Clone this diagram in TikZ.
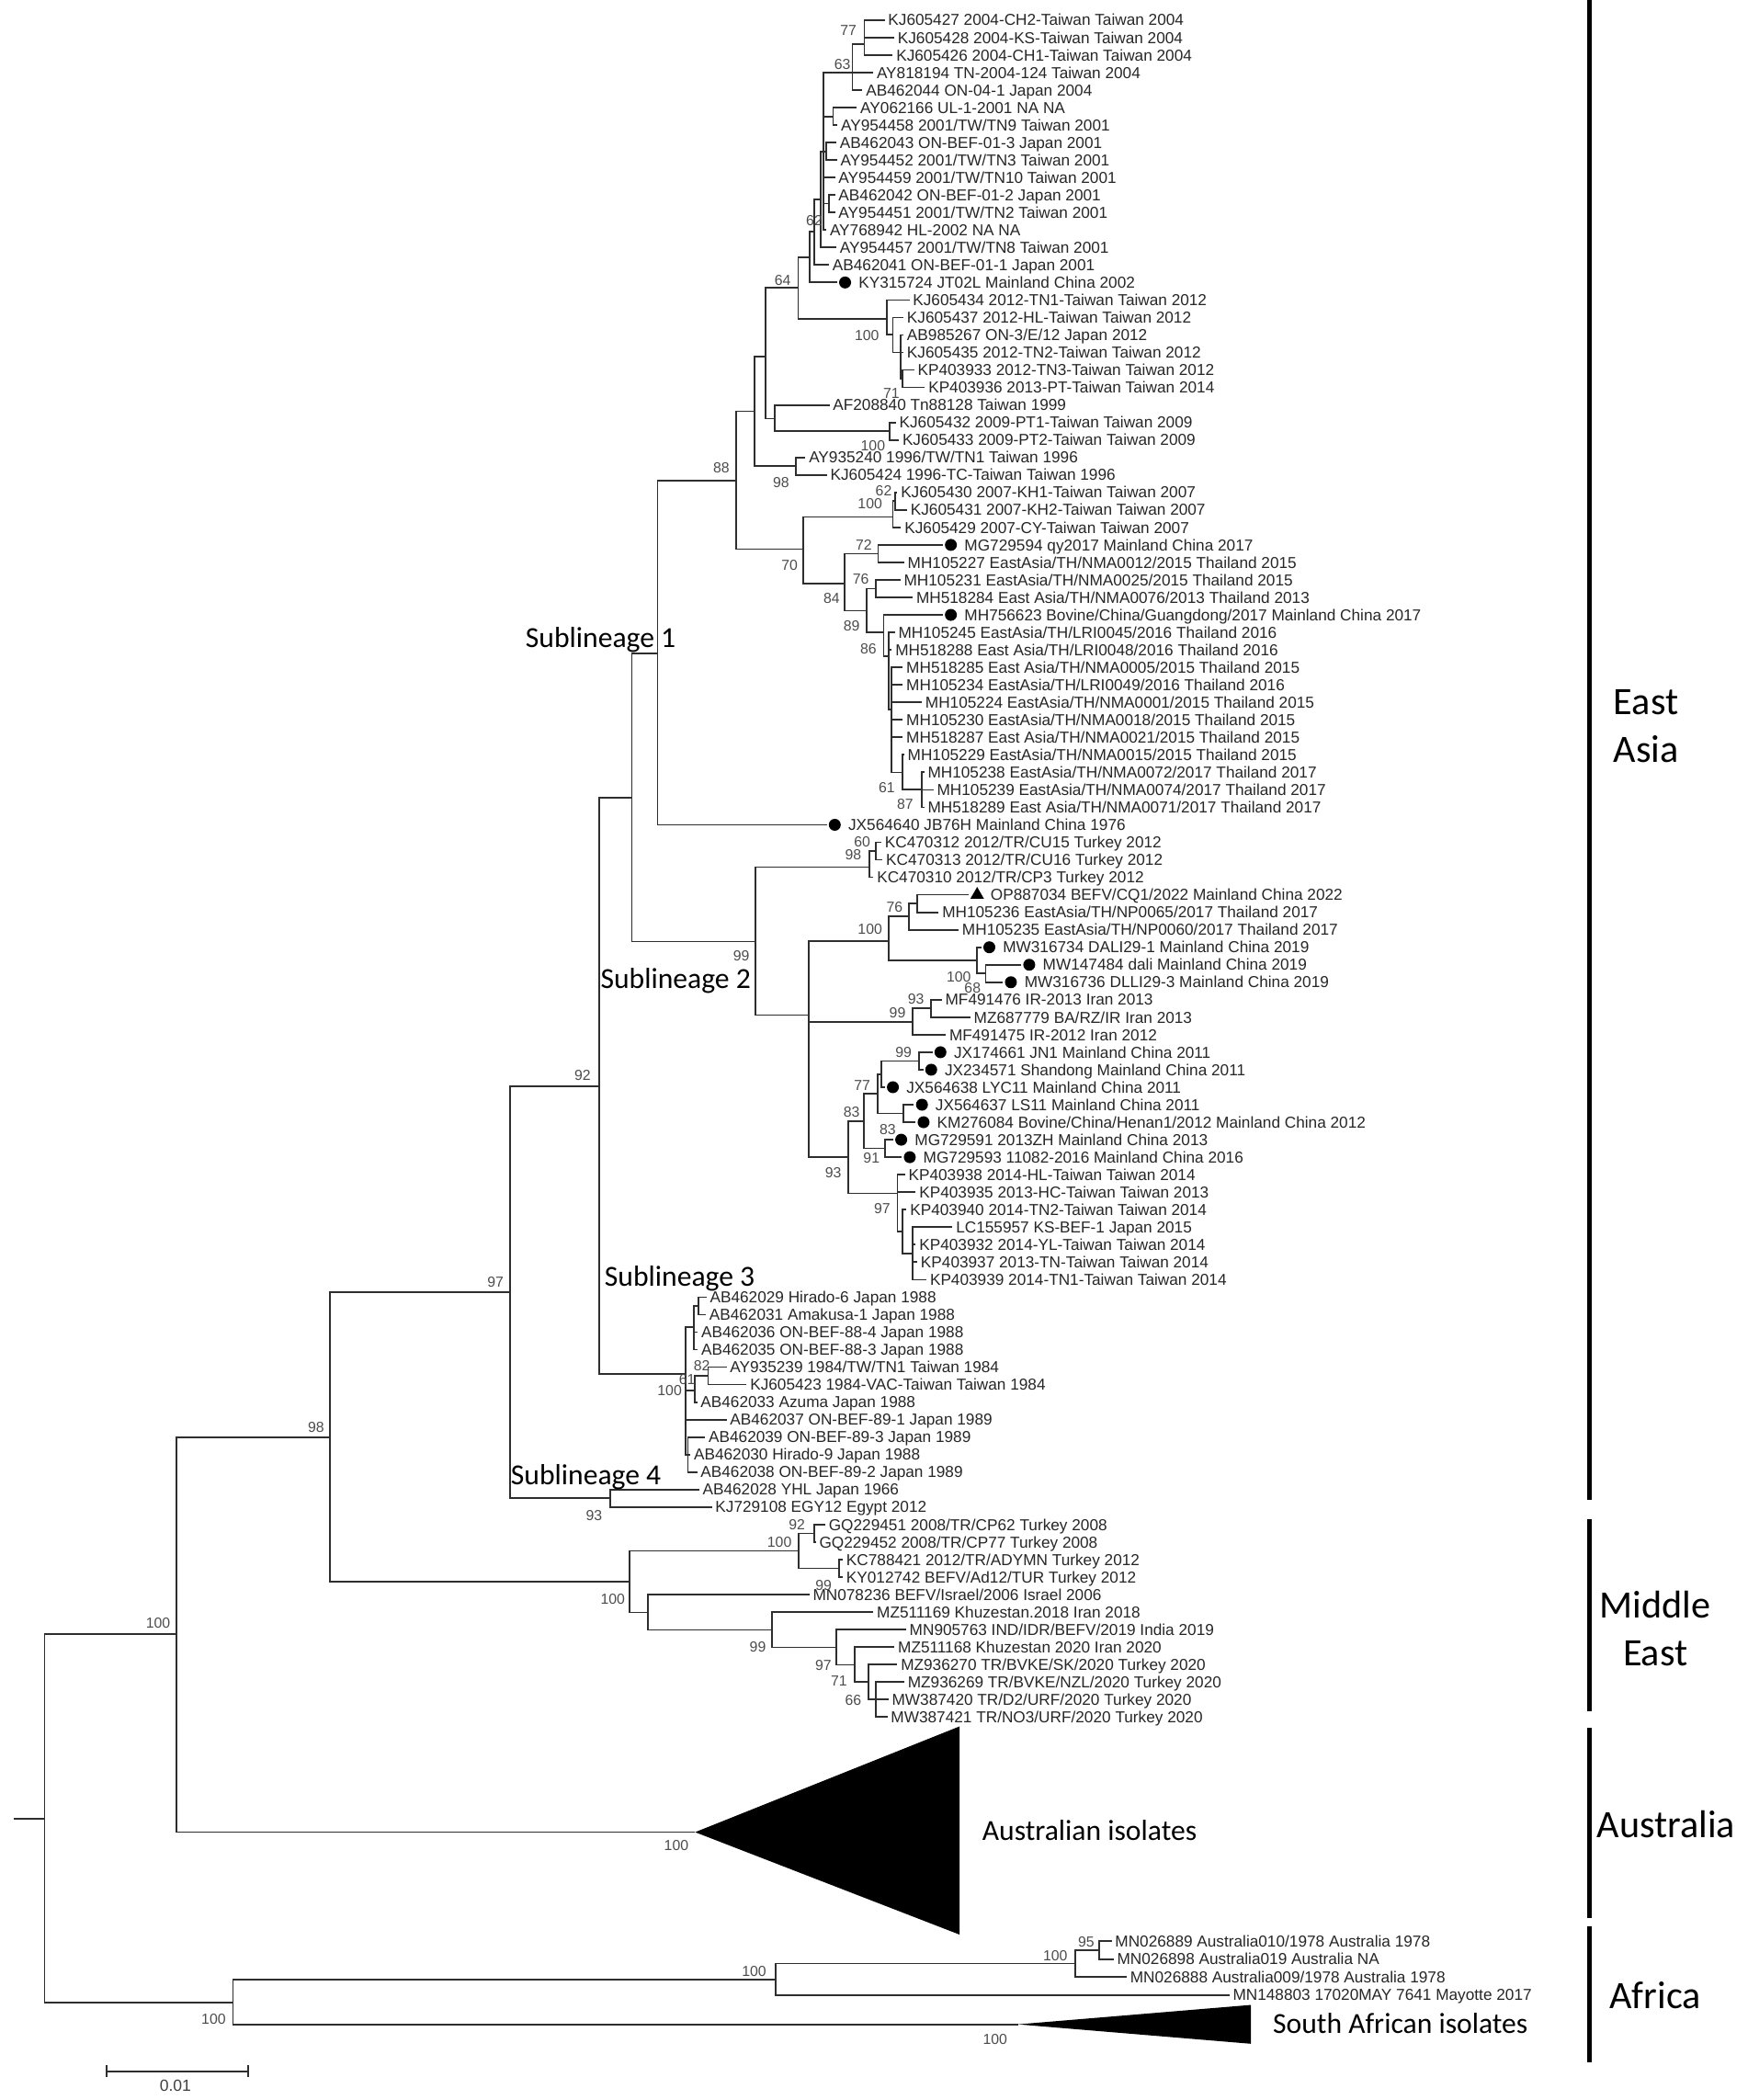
\documentclass[tikz,border=0pt]{standalone}
\usepackage{fontspec}
\setmainfont{Liberation Sans}
\newfontfamily\calfont{Carlito}
\usetikzlibrary{shapes.geometric}
\newcommand\Lf[4]{\coordinate (#1) at (#2,{#3}); \node[lf] (#1t) at (#1) {#4};}
\newcommand\Ld[4]{\coordinate (#1) at ({#2-6},{#3}); \node[dotm] (#1d) at (#2,{#3}) {}; \node[lf] (#1t) at ({#2+7.5},{#3}) {#4};}
\newcommand\E[2]{\foreach \ch in {#2}{\draw[br] (#1) |- (\ch);}}
\begin{document}
\begin{tikzpicture}[x=0.014575cm,y=-0.014575cm,
  declare function={R(\n)=15+(\n-1)*13.062;},
  br/.style={line width=0.5pt,draw=black!82},
  lf/.style={anchor=west,inner xsep=0.9pt,inner ysep=0pt,font=\fontsize{4.9}{5.4}\selectfont,text=black!85,text height=3.5pt,text depth=0pt},
  bs/.style={inner sep=0pt,font=\fontsize{4.5}{5}\selectfont,text=black!70},
  dotm/.style={circle,fill=black,inner sep=0pt,minimum size=0.13cm},
  trim/.style={regular polygon,regular polygon sides=3,fill=black,inner sep=0pt,minimum size=0.17cm},
  sub/.style={anchor=west,inner sep=0pt,font=\calfont\fontsize{9}{11}\selectfont,text height=6pt,text depth=0pt},
  reg/.style={align=center,inner sep=0pt,font=\calfont\fontsize{12}{14.9}\selectfont},
  regbar/.style={line width=1.5pt,draw=black}]
\useasboundingbox (0,0) rectangle (1305,1568);
% ---------------- leaves
\Lf{L1}{660.5}{R(1)}{KJ605427 2004-CH2-Taiwan Taiwan 2004}
\Lf{L2}{667.7}{R(2)}{KJ605428 2004-KS-Taiwan Taiwan 2004}
\Lf{L3}{666.6}{R(3)}{KJ605426 2004-CH1-Taiwan Taiwan 2004}
\Lf{L4}{652}{R(4)}{AY818194 TN-2004-124 Taiwan 2004}
\Lf{L5}{644}{R(5)}{AB462044 ON-04-1 Japan 2004}
\Lf{L6}{639.8}{R(6)}{AY062166 UL-1-2001 NA NA}
\Lf{L7}{625.3}{R(7)}{AY954458 2001/TW/TN9 Taiwan 2001}
\Lf{L8}{624.5}{R(8)}{AB462043 ON-BEF-01-3 Japan 2001}
\Lf{L9}{625}{R(9)}{AY954452 2001/TW/TN3 Taiwan 2001}
\Lf{L10}{623.5}{R(10)}{AY954459 2001/TW/TN10 Taiwan 2001}
\Lf{L11}{623.5}{R(11)}{AB462042 ON-BEF-01-2 Japan 2001}
\Lf{L12}{623.5}{R(12)}{AY954451 2001/TW/TN2 Taiwan 2001}
\Lf{L13}{617}{R(13)}{AY768942 HL-2002 NA NA}
\Lf{L14}{624.5}{R(14)}{AY954457 2001/TW/TN8 Taiwan 2001}
\Lf{L15}{619}{R(15)}{AB462041 ON-BEF-01-1 Japan 2001}
\Ld{L16}{631}{R(16)}{KY315724 JT02L Mainland China 2002}
\Lf{L17}{679}{R(17)}{KJ605434 2012-TN1-Taiwan Taiwan 2012}
\Lf{L18}{674.6}{R(18)}{KJ605437 2012-HL-Taiwan Taiwan 2012}
\Lf{L19}{674.6}{R(19)}{AB985267 ON-3/E/12 Japan 2012}
\Lf{L20}{674.6}{R(20)}{KJ605435 2012-TN2-Taiwan Taiwan 2012}
\Lf{L21}{682.6}{R(21)}{KP403933 2012-TN3-Taiwan Taiwan 2012}
\Lf{L22}{690.6}{R(22)}{KP403936 2013-PT-Taiwan Taiwan 2014}
\Lf{L23}{619.3}{R(23)}{AF208840 Tn88128 Taiwan 1999}
\Lf{L24}{668.9}{R(24)}{KJ605432 2009-PT1-Taiwan Taiwan 2009}
\Lf{L25}{671.2}{R(25)}{KJ605433 2009-PT2-Taiwan Taiwan 2009}
\Lf{L26}{601.4}{R(26)}{AY935240 1996/TW/TN1 Taiwan 1996}
\Lf{L27}{617.4}{R(27)}{KJ605424 1996-TC-Taiwan Taiwan 1996}
\Lf{L28}{670}{R(28)}{KJ605430 2007-KH1-Taiwan Taiwan 2007}
\Lf{L29}{677.3}{R(29)}{KJ605431 2007-KH2-Taiwan Taiwan 2007}
\Lf{L30}{672.8}{R(30)}{KJ605429 2007-CY-Taiwan Taiwan 2007}
\Ld{L31}{710}{R(31)}{MG729594 qy2017 Mainland China 2017}
\Lf{L32}{675.1}{R(32)}{MH105227 EastAsia/TH/NMA0012/2015 Thailand 2015}
\Lf{L33}{672.3}{R(33)}{MH105231 EastAsia/TH/NMA0025/2015 Thailand 2015}
\Lf{L34}{681.5}{R(34)}{MH518284 East Asia/TH/NMA0076/2013 Thailand 2013}
\Ld{L35}{710}{R(35)}{MH756623 Bovine/China/Guangdong/2017 Mainland China 2017}
\Lf{L36}{668.2}{R(36)}{MH105245 EastAsia/TH/LRI0045/2016 Thailand 2016}
\Lf{L37}{665.9}{R(37)}{MH518288 East Asia/TH/LRI0048/2016 Thailand 2016}
\Lf{L38}{674.1}{R(38)}{MH518285 East Asia/TH/NMA0005/2015 Thailand 2015}
\Lf{L39}{674.1}{R(39)}{MH105234 EastAsia/TH/LRI0049/2016 Thailand 2016}
\Lf{L40}{688.3}{R(40)}{MH105224 EastAsia/TH/NMA0001/2015 Thailand 2015}
\Lf{L41}{674.1}{R(41)}{MH105230 EastAsia/TH/NMA0018/2015 Thailand 2015}
\Lf{L42}{674.1}{R(42)}{MH518287 East Asia/TH/NMA0021/2015 Thailand 2015}
\Lf{L43}{675.1}{R(43)}{MH105229 EastAsia/TH/NMA0015/2015 Thailand 2015}
\Lf{L44}{690.1}{R(44)}{MH105238 EastAsia/TH/NMA0072/2017 Thailand 2017}
\Lf{L45}{697}{R(45)}{MH105239 EastAsia/TH/NMA0074/2017 Thailand 2017}
\Lf{L46}{690.1}{R(46)}{MH518289 East Asia/TH/NMA0071/2017 Thailand 2017}
\Ld{L47}{623.3}{R(47)}{JX564640 JB76H Mainland China 1976}
\Lf{L48}{658.1}{R(48)}{KC470312 2012/TR/CU15 Turkey 2012}
\Lf{L49}{659}{R(49)}{KC470313 2012/TR/CU16 Turkey 2012}
\Lf{L50}{652.2}{R(50)}{KC470310 2012/TR/CP3 Turkey 2012}
\coordinate (L51) at (723.6,{R(51)});
\node[trim] (L51d) at (729.6,{R(51)}) {};
\node[lf] (L51t) at (737,{R(51)}) {OP887034 BEFV/CQ1/2022 Mainland China 2022};
\Lf{L52}{700.9}{R(52)}{MH105236 EastAsia/TH/NP0065/2017 Thailand 2017}
\Lf{L53}{715.8}{R(53)}{MH105235 EastAsia/TH/NP0060/2017 Thailand 2017}
\Ld{L54}{738.7}{R(54)}{MW316734 DALI29-1 Mainland China 2019}
\Ld{L55}{768.5}{R(55)}{MW147484 dali Mainland China 2019}
\Ld{L56}{754.8}{R(56)}{MW316736 DLLI29-3 Mainland China 2019}
\Lf{L57}{703.2}{R(57)}{MF491476 IR-2013 Iran 2013}
\Lf{L58}{724.5}{R(58)}{MZ687779 BA/RZ/IR Iran 2013}
\Lf{L59}{706.2}{R(59)}{MF491475 IR-2012 Iran 2012}
\Ld{L60}{702.2}{R(60)}{JX174661 JN1 Mainland China 2011}
\Ld{L61}{695.3}{R(61)}{JX234571 Shandong Mainland China 2011}
\Ld{L62}{666.7}{R(62)}{JX564638 LYC11 Mainland China 2011}
\Ld{L63}{688.4}{R(63)}{JX564637 LS11 Mainland China 2011}
\Ld{L64}{689.6}{R(64)}{KM276084 Bovine/China/Henan1/2012 Mainland China 2012}
\Ld{L65}{672.9}{R(65)}{MG729591 2013ZH Mainland China 2013}
\Ld{L66}{679.3}{R(66)}{MG729593 11082-2016 Mainland China 2016}
\Lf{L67}{675.7}{R(67)}{KP403938 2014-HL-Taiwan Taiwan 2014}
\Lf{L68}{683.8}{R(68)}{KP403935 2013-HC-Taiwan Taiwan 2013}
\Lf{L69}{676.9}{R(69)}{KP403940 2014-TN2-Taiwan Taiwan 2014}
\Lf{L70}{711.2}{R(70)}{LC155957 KS-BEF-1 Japan 2015}
\Lf{L71}{683.8}{R(71)}{KP403932 2014-YL-Taiwan Taiwan 2014}
\Lf{L72}{684.9}{R(72)}{KP403937 2013-TN-Taiwan Taiwan 2014}
\Lf{L73}{691.8}{R(73)}{KP403939 2014-TN1-Taiwan Taiwan 2014}
\Lf{L74}{527.5}{R(74)}{AB462029 Hirado-6 Japan 1988}
\Lf{L75}{527}{R(75)}{AB462031 Amakusa-1 Japan 1988}
\Lf{L76}{521}{R(76)}{AB462036 ON-BEF-88-4 Japan 1988}
\Lf{L77}{521}{R(77)}{AB462035 ON-BEF-88-3 Japan 1988}
\Lf{L78}{542.5}{R(78)}{AY935239 1984/TW/TN1 Taiwan 1984}
\Lf{L79}{557.5}{R(79)}{KJ605423 1984-VAC-Taiwan Taiwan 1984}
\Lf{L80}{520.5}{R(80)}{AB462033 Azuma Japan 1988}
\Lf{L81}{542.5}{R(81)}{AB462037 ON-BEF-89-1 Japan 1989}
\Lf{L82}{526.5}{R(82)}{AB462039 ON-BEF-89-3 Japan 1989}
\Lf{L83}{515.5}{R(83)}{AB462030 Hirado-9 Japan 1988}
\Lf{L84}{520.5}{R(84)}{AB462038 ON-BEF-89-2 Japan 1989}
\Lf{L85}{522}{R(85)}{AB462028 YHL Japan 1966}
\Lf{L86}{531.5}{R(86)}{KJ729108 EGY12 Egypt 2012}
\Lf{L87}{616.2}{R(87)}{GQ229451 2008/TR/CP62 Turkey 2008}
\Lf{L88}{609.1}{R(88)}{GQ229452 2008/TR/CP77 Turkey 2008}
\Lf{L89}{629.3}{R(89)}{KC788421 2012/TR/ADYMN Turkey 2012}
\Lf{L90}{629.3}{R(90)}{KY012742 BEFV/Ad12/TUR Turkey 2012}
\Lf{L91}{604.3}{R(91)}{MN078236 BEFV/Israel/2006 Israel 2006}
\Lf{L92}{652.1}{R(92)}{MZ511169 Khuzestan.2018 Iran 2018}
\Lf{L93}{676.5}{R(93)}{MN905763 IND/IDR/BEFV/2019 India 2019}
\Lf{L94}{667.9}{R(94)}{MZ511168 Khuzestan 2020 Iran 2020}
\Lf{L95}{670}{R(95)}{MZ936270 TR/BVKE/SK/2020 Turkey 2020}
\Lf{L96}{675.2}{R(96)}{MZ936269 TR/BVKE/NZL/2020 Turkey 2020}
\Lf{L97}{663.4}{R(97)}{MW387420 TR/D2/URF/2020 Turkey 2020}
\Lf{L98}{662.6}{R(98)}{MW387421 TR/NO3/URF/2020 Turkey 2020}
\Lf{F1}{830}{1449.5}{MN026889 Australia010/1978 Australia 1978}
\Lf{F2}{831.5}{1462.8}{MN026898 Australia019 Australia NA}
\Lf{F3}{841.3}{1476}{MN026888 Australia009/1978 Australia 1978}
\Lf{F4}{917.9}{1489.5}{MN148803 17020MAY 7641 Mayotte 2017}
% ---------------- internal nodes: sublineage 1
\coordinate (a77) at (645.4,33);
\coordinate (a63) at (636.5,54);
\coordinate (aB) at (622,87);
\coordinate (aC) at (617,113);
\coordinate (aD) at (619,152);
\coordinate (aP) at (615,113);
\coordinate (a62) at (613,149);
\coordinate (a608) at (608,173);
\coordinate (a604) at (604.3,192);
\coordinate (aG) at (673.6,282.8);
\coordinate (aF) at (672.4,263.2);
\coordinate (aE) at (666.7,250);
\coordinate (a100) at (662.1,238);
\coordinate (a64) at (596,215);
\coordinate (aK) at (664.4,322);
\coordinate (aI) at (578.7,312.6);
\coordinate (aH) at (571.8,266);
\coordinate (a98) at (594,348.1);
\coordinate (aJ) at (563.3,307);
\coordinate (a62b) at (668.3,374.2);
\coordinate (a100b) at (666.7,386);
\coordinate (a72) at (655.7,413.4);
\coordinate (a76) at (653.7,439.5);
\coordinate (a87) at (688.4,589.7);
\coordinate (a61) at (673.6,576.7);
\coordinate (aT2) at (665.6,530);
\coordinate (aT1) at (663.5,490);
\coordinate (a86) at (659.8,472);
\coordinate (a89) at (647.3,456);
\coordinate (a84) at (630.8,436);
\coordinate (a70) at (599.5,410);
\coordinate (a88) at (549.6,359);
\coordinate (aSL1) at (491,488);
% sublineage 2
\coordinate (a60) at (654.1,635.4);
\coordinate (a98b) at (648.9,647.5);
\coordinate (aOP) at (685,674.6);
\coordinate (a76b) at (678.8,684.4);
\coordinate (a68) at (736,726.9);
\coordinate (aDali) at (729.6,717);
\coordinate (a100c) at (663.7,702.6);
\coordinate (a93b) at (695.3,753);
\coordinate (a99c) at (681.6,763);
\coordinate (a99d) at (686.2,792.2);
\coordinate (aX) at (658.3,802);
\coordinate (aLS) at (674.7,831.4);
\coordinate (a77b) at (655.3,816.7);
\coordinate (a91) at (661,857.5);
\coordinate (a83) at (645,837);
\coordinate (aY) at (681.6,936);
\coordinate (aZ) at (673.6,919.6);
\coordinate (a97) at (670.1,891);
\coordinate (a93) at (633.6,864);
\coordinate (aM) at (603.8,758);
\coordinate (aSL2) at (564.2,703);
\coordinate (aSL12) at (471.8,595.5);
% sublineage 3, 4
\coordinate (aS1a) at (521.6,975);
\coordinate (aS1) at (518.2,991);
\coordinate (aS2a) at (528.8,1027.3);
\coordinate (aS2) at (519,1038);
\coordinate (aS3) at (513.7,1086.1);
\coordinate (aSL3) at (512,1026);
\coordinate (a92) at (447.6,811);
\coordinate (aSL4) at (455.8,1118.7);
\coordinate (a97E) at (381,965);
% middle east
\coordinate (aME92) at (608.1,1144.9);
\coordinate (aKC) at (626.5,1171);
\coordinate (aME100) at (596.3,1158);
\coordinate (aW) at (654.1,1268.9);
\coordinate (a66) at (648.3,1256);
\coordinate (a71) at (638.3,1243);
\coordinate (a97c) at (624.7,1230);
\coordinate (a99e) at (576.6,1217);
\coordinate (aIs) at (483.9,1204);
\coordinate (aME) at (470.3,1181);
\coordinate (a98E) at (246.5,1073);
% australia / africa / root
\coordinate (aAus) at (519,1368);
\coordinate (a100E) at (132,1220);
\coordinate (aA95) at (820.9,1456);
\coordinate (aA100b) at (803,1466);
\coordinate (aA100) at (579,1478);
\coordinate (aSA) at (760,1511.5);
\coordinate (aAf) at (174,1495);
\coordinate (root) at (33.3,1358);
\coordinate (rootstub) at (10,1358);
% ---------------- branches
\E{a77}{L1,L2,L3}
\E{a63}{a77,L4,L5}
\E{aB}{L6,L7}
\E{aC}{L8,L9}
\E{aD}{L11,L12}
\E{aP}{a63,aB,aC,L10,aD,L13}
\E{a62}{aP,L14}
\E{a608}{a62,L15}
\E{a604}{a608,L16}
\E{aG}{L21,L22}
\E{aF}{L19,L20,aG}
\E{aE}{L18,aF}
\E{a100}{L17,aE}
\E{a64}{a604,a100}
\E{aK}{L24,L25}
\E{aI}{L23,aK}
\E{aH}{a64,aI}
\E{a98}{L26,L27}
\E{aJ}{aH,a98}
\E{a62b}{L28,L29}
\E{a100b}{a62b,L30}
\E{a72}{L31,L32}
\E{a76}{L33,L34}
\E{a87}{L44,L45,L46}
\E{a61}{L43,a87}
\E{aT2}{L38,L39,L40,L41,L42,a61}
\E{aT1}{L36,L37,aT2}
\E{a86}{L35,aT1}
\E{a89}{a76,a86}
\E{a84}{a72,a89}
\E{a70}{a100b,a84}
\E{a88}{aJ,a70}
\E{aSL1}{a88,L47}
\E{a60}{L48,L49}
\E{a98b}{a60,L50}
\E{aOP}{L51,L52}
\E{a76b}{aOP,L53}
\E{a68}{L55,L56}
\E{aDali}{L54,a68}
\E{a100c}{a76b,aDali}
\E{a93b}{L57,L58}
\E{a99c}{a93b,L59}
\E{a99d}{L60,L61}
\E{aX}{a99d,L62}
\E{aLS}{L63,L64}
\E{a77b}{aX,aLS}
\E{a91}{L65,L66}
\E{a83}{a77b,a91}
\E{aY}{L70,L71,L72,L73}
\E{aZ}{L69,aY}
\E{a97}{L67,L68,aZ}
\E{a93}{a83,a97}
\E{aM}{a100c,a99c,a93}
\E{aSL2}{a98b,aM}
\E{aSL12}{aSL1,aSL2}
\E{aS1a}{L74,L75}
\E{aS1}{aS1a,L76,L77}
\E{aS2a}{L78,L79}
\E{aS2}{aS2a,L80}
\E{aS3}{L82,L83,L84}
\E{aSL3}{aS1,aS2,L81,aS3}
\E{a92}{aSL12,aSL3}
\E{aSL4}{L85,L86}
\E{a97E}{a92,aSL4}
\E{aME92}{L87,L88}
\E{aKC}{L89,L90}
\E{aME100}{aME92,aKC}
\E{aW}{L96,L97,L98}
\E{a66}{L95,aW}
\E{a71}{L94,a66}
\E{a97c}{L93,a71}
\E{a99e}{L92,a97c}
\E{aIs}{L91,a99e}
\E{aME}{aME100,aIs}
\E{a98E}{a97E,aME}
\E{a100E}{a98E,aAus}
\E{aA95}{F1,F2}
\E{aA100b}{aA95,F3}
\E{aA100}{aA100b,F4}
\E{aAf}{aA100,aSA}
\E{root}{a100E,aAf}
\draw[br] (rootstub) -- (root);
% collapsed clades
\fill[black] (aAus) -- (716.5,1289) -- (716.5,1444.5) -- cycle;
\fill[black] (aSA) -- (934,1497) -- (934,1526) -- cycle;
\node[anchor=west,inner sep=0pt,font=\calfont\fontsize{9}{11}\selectfont,text height=6pt,text depth=0pt] (ausT) at (733,1367) {Australian isolates};
\node[anchor=west,inner sep=0pt,font=\calfont\fontsize{9}{11}\selectfont,text height=6pt,text depth=0pt] (saT) at (950,1511) {South African isolates};
% ---------------- bootstrap values
\node[bs] (b1) at (633.5,22.7) {77};
\node[bs] (b2) at (629,48) {63};
\node[bs] (b3) at (608,165) {62};
\node[bs] (b4) at (584.4,209.3) {64};
\node[bs] (b5) at (647.3,250.4) {100};
\node[bs] (b6) at (665.6,293.8) {71};
\node[bs] (b7) at (651.8,332.7) {100};
\node[bs] (b8) at (538.6,349.6) {88};
\node[bs] (b9) at (583.2,360.2) {98};
\node[bs] (b10) at (659.8,366.3) {62};
\node[bs] (b11) at (649.6,376.2) {100};
\node[bs] (b12) at (645,406.6) {72};
\node[bs] (b13) at (589.6,421.9) {70};
\node[bs] (b14) at (642.7,432.2) {76};
\node[bs] (b15) at (621,447) {84};
\node[bs] (b16) at (635.8,467.6) {89};
\node[bs] (b17) at (648.4,484.8) {86};
\node[bs] (b18) at (662.1,587.8) {61};
\node[bs] (b19) at (675.9,600.4) {87};
\node[bs] (b20) at (643.8,628.9) {60};
\node[bs] (b21) at (637,638.1) {98};
\node[bs] (b22) at (667.9,677.4) {76};
\node[bs] (b23) at (649.6,694.1) {100};
\node[bs] (b24) at (553.5,713.6) {99};
\node[bs] (b25) at (715.9,729.6) {100};
\node[bs] (b26) at (726.2,737.6) {68};
\node[bs] (b27) at (683.9,746) {93};
\node[bs] (b28) at (670.1,755.9) {99};
\node[bs] (b29) at (674.7,785.6) {99};
\node[bs] (b30) at (643.8,810.7) {77};
\node[bs] (b31) at (635.8,830.2) {83};
\node[bs] (b32) at (662.8,843.4) {83};
\node[bs] (b33) at (650.7,864.5) {91};
\node[bs] (b34) at (622.1,875.9) {93};
\node[bs] (b35) at (658.7,902.2) {97};
\node[bs] (b36) at (524,1020) {82};
\node[bs] (b37) at (513,1030) {61};
\node[bs] (b38) at (500,1038) {100};
\node[bs] (b39) at (435,803) {92};
\node[bs] (b40) at (370,957) {97};
\node[bs] (b41) at (443.6,1131.6) {93};
\node[bs] (b42) at (595,1138.6) {92};
\node[bs] (b43) at (582,1151.5) {100};
\node[bs] (b44) at (615,1184) {99};
\node[bs] (b45) at (457.5,1193.8) {100};
\node[bs] (b46) at (565.8,1229.9) {99};
\node[bs] (b47) at (614.7,1243.2) {97};
\node[bs] (b48) at (626.5,1255.3) {71};
\node[bs] (b49) at (637,1269.4) {66};
\node[bs] (b50) at (236,1066) {98};
\node[bs] (b51) at (118,1212) {100};
\node[bs] (b52) at (505,1378) {100};
\node[bs] (b53) at (159.5,1507.5) {100};
\node[bs] (b54) at (563,1472) {100};
\node[bs] (b55) at (788,1460) {100};
\node[bs] (b56) at (811,1450) {95};
\node[bs] (b57) at (743,1523) {100};
% ---------------- sublineage labels
\node[sub] (s1) at (392,476) {Sublineage 1};
\node[sub] (s2) at (448,731) {Sublineage 2};
\node[sub] (s3) at (451,953) {Sublineage 3};
\node[sub] (s4) at (381,1101) {Sublineage 4};
% ---------------- region bars
\coordinate (eaT) at (1187,0); \coordinate (eaB) at (1187,1120);
\coordinate (meT) at (1187,1134); \coordinate (meB) at (1187,1278);
\coordinate (auT) at (1187,1290); \coordinate (auB) at (1187,1432);
\coordinate (afT) at (1187,1438); \coordinate (afB) at (1187,1540);
\draw[regbar] (eaT) -- (eaB);
\draw[regbar] (meT) -- (meB);
\draw[regbar] (auT) -- (auB);
\draw[regbar] (afT) -- (afB);
\node[reg] (rEA) at (1229,542) {East\\Asia};
\node[reg] (rME) at (1236,1216) {Middle\\East};
\node[reg] (rAU) at (1244,1362) {Australia};
\node[reg] (rAF) at (1236,1490) {Africa};
% ---------------- scale bar
\coordinate (sbL) at (79.5,1546.5); \coordinate (sbR) at (185.5,1546.5);
\draw[br] (sbL) -- (sbR);
\draw[br] (79.5,1542) -- (79.5,1551);
\draw[br] (185.5,1542) -- (185.5,1551);
\node[inner sep=0pt,font=\fontsize{5}{6}\selectfont,text=black!75] (sbT) at (131,1557.5) {0.01};
\end{tikzpicture}
\end{document}
